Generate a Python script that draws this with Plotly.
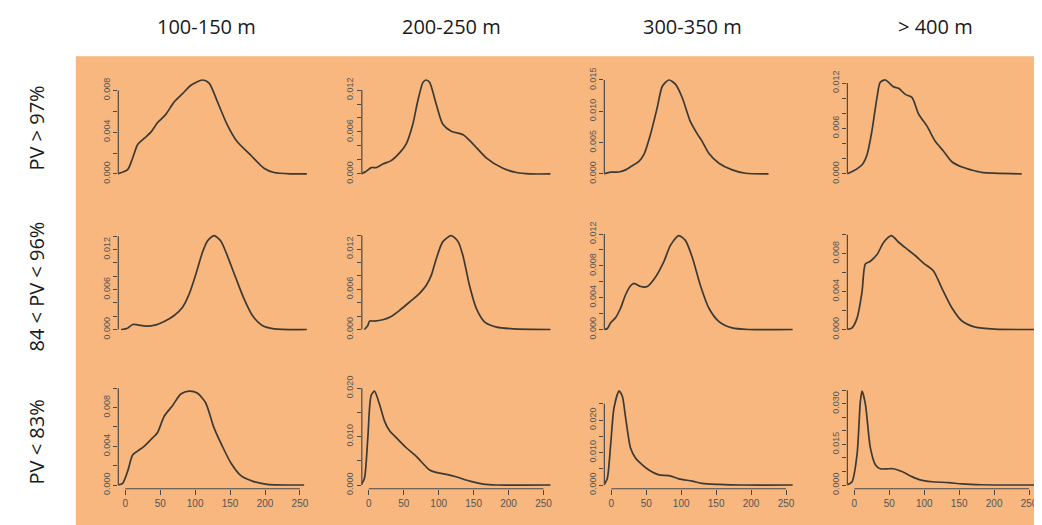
import numpy as np
import plotly.graph_objects as go

W, H = 1042, 525

col_titles = ["100-150 m", "200-250 m", "300-350 m", "> 400 m"]
row_titles = ["PV > 97%", "84 < PV < 96%", "PV < 83%"]

# density curves: (x values, density values), row-major
r1c1_x = [-11, 3.3, 10.5, 17.6, 27, 36.7, 46, 58, 70, 82, 94, 110.5, 120, 132, 146, 160, 179.5, 198.6, 213, 237, 260]
r1c1_y = [0, 0.0004, 0.0015, 0.0028, 0.0034, 0.004, 0.0049, 0.0057, 0.0069, 0.0077, 0.0085, 0.0090, 0.0087, 0.0069, 0.0047, 0.0031, 0.0018, 0.00054, 0.00013, 0, 0]
r1c2_x = [-11, -4, 3.3, 10.5, 20, 32, 44, 53.6, 63, 70, 77.5, 82, 87, 96.7, 106, 118, 135, 149, 168, 192, 211.5, 230.6, 261]
r1c2_y = [0, 0.00034, 0.0009, 0.0009, 0.0014, 0.0019, 0.003, 0.0043, 0.0071, 0.0104, 0.0131, 0.01344, 0.0131, 0.0099, 0.0071, 0.0061, 0.0056, 0.0043, 0.0023, 0.0008, 0.0002, 0, 0]
r1c3_x = [-10.5, -1, 11, 20.5, 30, 39.5, 46.7, 56, 65.7, 73, 82.4, 92, 101.4, 113, 123, 130, 139.5, 154, 173, 192, 225]
r1c3_y = [0, 0.00027, 0.0003, 0.00064, 0.0013, 0.002, 0.0031, 0.0063, 0.0106, 0.014, 0.015, 0.0143, 0.0122, 0.0084, 0.0064, 0.0052, 0.0033, 0.0017, 0.00064, 0.0001, 0]
r1c4_x = [-10.5, -1, 11, 18, 25, 32.4, 37, 44.3, 56, 63.3, 73, 82.4, 92, 104, 115.7, 127.6, 139.5, 154, 168, 182, 239.5]
r1c4_y = [0, 0.0004, 0.0012, 0.0025, 0.0056, 0.0101, 0.0121, 0.0124, 0.0115, 0.0113, 0.0105, 0.0101, 0.0079, 0.0063, 0.0043, 0.003, 0.0016, 0.0009, 0.0005, 0.0002, 0]

r2c1_x = [-6, 3.3, 10.5, 17.6, 29.5, 44, 55.7, 70, 82, 91.4, 101, 110.5, 117.6, 127, 136.7, 146, 158, 170, 182, 196, 213, 260]
r2c1_y = [0, 0.0002, 0.00075, 0.0007, 0.0005, 0.0007, 0.0012, 0.0021, 0.00335, 0.0053, 0.0083, 0.0116, 0.0133, 0.0141, 0.0133, 0.0111, 0.0078, 0.0046, 0.0021, 0.0006, 0.0001, 0]
r2c2_x = [-6.2, -1.4, 1, 8, 20, 32, 44, 58.4, 72.7, 82.3, 89.5, 96.7, 106, 118, 127.8, 135, 144.5, 154, 166, 183, 207, 261]
r2c2_y = [0, 0.0006, 0.00125, 0.00125, 0.00145, 0.00195, 0.00285, 0.0041, 0.0054, 0.0066, 0.0081, 0.0106, 0.0131, 0.014, 0.0131, 0.0109, 0.0064, 0.0031, 0.0011, 0.00035, 0.0001, 0]
r2c3_x = [-10.5, -5.7, -1, 6.2, 13.3, 20.5, 27.6, 32.4, 42, 51.4, 63.3, 75, 84.8, 96.7, 106, 115.7, 127.6, 139.5, 154, 173, 196.7, 259.5]
r2c3_y = [0, 0.00013, 0.00085, 0.0015, 0.0027, 0.0044, 0.0055, 0.0058, 0.0054, 0.0054, 0.0066, 0.0085, 0.0106, 0.0118, 0.0112, 0.0091, 0.0055, 0.0027, 0.001, 0.0002, 0, 0]
r2c4_x = [-10.5, -3.3, 3.8, 11, 15.7, 22.9, 32.4, 42, 53, 63.3, 75, 87, 99, 113, 125, 139.5, 154, 173, 201, 261]
r2c4_y = [0, 0.00018, 0.0012, 0.004, 0.0069, 0.0072, 0.0079, 0.0092, 0.0099, 0.0092, 0.0085, 0.0078, 0.007, 0.0062, 0.0044, 0.0023, 0.0009, 0.00025, 0.00004, 0]

r3c1_x = [-11, -3.8, 3.3, 10.5, 17.6, 27, 36.7, 46, 55.7, 67.6, 79.5, 91.4, 103, 115, 127, 139, 151, 165, 184, 203, 256]
r3c1_y = [0, 0.00017, 0.0014, 0.0031, 0.0035, 0.004, 0.0047, 0.0054, 0.0071, 0.0082, 0.0094, 0.0097, 0.0095, 0.0085, 0.0059, 0.004, 0.0023, 0.001, 0.00035, 0.00007, 0]
r3c2_x = [-11, -6.2, -1.4, 3.3, 8.1, 15.3, 22.5, 29.7, 39.2, 53.6, 68, 87, 96.7, 111, 125, 144.5, 163.6, 183, 261]
r3c2_y = [0, 0.0014, 0.0098, 0.0185, 0.0194, 0.0167, 0.0132, 0.0112, 0.0098, 0.0077, 0.0059, 0.0031, 0.0026, 0.0022, 0.0017, 0.0008, 0.0002, 0, 0]
r3c3_x = [-10.5, -5.7, -1, 3.8, 11, 15.7, 20.5, 27.6, 34.8, 44.3, 53.8, 68, 82.4, 96.7, 115.7, 130, 154, 187, 259.5]
r3c3_y = [0, 0.0021, 0.0124, 0.0237, 0.0289, 0.0273, 0.0206, 0.0113, 0.0082, 0.0062, 0.0046, 0.0031, 0.0029, 0.0019, 0.0012, 0.0005, 0.0002, 0, 0]
r3c4_x = [-10.5, -3.3, 3.8, 8.6, 11, 15.7, 22.9, 30, 37, 46.7, 56, 68, 82.4, 94, 111, 135, 154, 182, 261]
r3c4_y = [0, 0.0012, 0.0112, 0.031, 0.0347, 0.030, 0.0137, 0.0075, 0.006, 0.006, 0.006, 0.005, 0.0031, 0.0019, 0.0012, 0.0009, 0.0004, 0.0001, 0]

curves = [
    [(r1c1_x, r1c1_y), (r1c2_x, r1c2_y), (r1c3_x, r1c3_y), (r1c4_x, r1c4_y)],
    [(r2c1_x, r2c1_y), (r2c2_x, r2c2_y), (r2c3_x, r2c3_y), (r2c4_x, r2c4_y)],
    [(r3c1_x, r3c1_y), (r3c2_x, r3c2_y), (r3c3_x, r3c3_y), (r3c4_x, r3c4_y)],
]

# y axis ticks per panel: step, last tick, label every n-th tick
y_tick_step = [[0.002, 0.002, 0.005, 0.002],
               [0.002, 0.002, 0.002, 0.002],
               [0.002, 0.005, 0.005, 0.005]]
y_tick_top = [[0.008, 0.012, 0.015, 0.012],
              [0.014, 0.014, 0.012, 0.010],
              [0.010, 0.020, 0.025, 0.035]]
y_label_every = [[2, 3, 1, 3],
                 [3, 3, 2, 2],
                 [2, 2, 2, 3]]
x_ticks = [0, 50, 100, 150, 200, 250]
x_lim = [0, 250]

# target layout geometry in screen pixels
col_left = [118.5, 362.5, 605.5, 849]
col_w = 189
row_top = [76.9, 231.6, 386.2]
row_h = 100.8

# mapping of screen pixels to paper fractions (page offset compensated)
X0, XW = 8.0, 1042.0
Y0, YH = 21.0, 504.0


def fx(px):
    return (px - X0) / XW


def fy(py):
    return 1 - (py - Y0) / YH


ORANGE = "#F7B77E"
LINE = "#3d3934"
AX = "#4a4a4a"
TXT = "#1a1a1a"

fig = go.Figure()
layout = dict(
    width=W, height=H,
    margin=dict(l=0, r=0, t=0, b=0, pad=0),
    paper_bgcolor="white",
    plot_bgcolor="rgba(0,0,0,0)",
    showlegend=False,
)
shapes = [dict(type="rect", xref="paper", yref="paper",
               x0=fx(76), x1=1.02, y0=-0.05, y1=fy(57),
               fillcolor=ORANGE, line=dict(width=0), layer="below")]
annotations = []

xpad = 0.04 * (x_lim[1] - x_lim[0])
n = 0
for r in range(3):
    for c in range(4):
        n += 1
        sfx = "" if n == 1 else str(n)
        xs, ys = curves[r][c]
        M = max(ys)
        fig.add_trace(go.Scatter(x=xs, y=ys, mode="lines",
                                 line=dict(color=LINE, width=1.7, shape="spline", smoothing=0.7),
                                 xaxis="x" + sfx, yaxis="y" + sfx, hoverinfo="skip"))
        step = y_tick_step[r][c]
        top = y_tick_top[r][c]
        tv = list(np.round(np.arange(0, top + step / 2, step), 6))
        every = y_label_every[r][c]
        tt = [f"{v:.3f}" if i % every == 0 else "" for i, v in enumerate(tv)]
        xd = [fx(col_left[c]), fx(col_left[c] + col_w)]
        yd = [fy(row_top[r] + row_h), fy(row_top[r])]
        bottom = (r == 2)
        layout["xaxis" + sfx] = dict(
            domain=xd, anchor="y" + sfx, range=[x_lim[0] - xpad, x_lim[1] + xpad],
            showgrid=False, zeroline=False, showline=False,
            tickvals=x_ticks if bottom else [], ticks="outside" if bottom else "",
            ticklen=5, tickwidth=1, tickcolor=AX,
            showticklabels=bottom,
            tickfont=dict(family="Liberation Sans, Arial", size=10, color="#555"),
        )
        layout["yaxis" + sfx] = dict(
            domain=yd, anchor="x" + sfx, range=[-0.04 * M, 1.04 * M],
            showgrid=False, zeroline=False, showline=False,
            tickvals=tv, ticktext=tt, ticks="outside", ticklen=4, tickwidth=1,
            tickcolor=AX, tickangle=-90,
            tickfont=dict(family="Liberation Sans, Arial", size=9, color="#555"),
        )
        shapes.append(dict(type="line", xref=f"x{sfx} domain", yref="y" + sfx,
                           x0=0, x1=0, y0=tv[0], y1=tv[-1],
                           line=dict(color=AX, width=1.2)))
        if bottom:
            shapes.append(dict(type="line", xref="x" + sfx, yref=f"y{sfx} domain",
                               x0=x_ticks[0], x1=x_ticks[-1], y0=0, y1=0,
                               line=dict(color=AX, width=1.2)))

col_title_x = [207, 452, 694, 937]
for c, t in enumerate(col_titles):
    annotations.append(dict(text=t, x=fx(col_title_x[c]), y=fy(27),
                            xref="paper", yref="paper", showarrow=False,
                            xanchor="center", yanchor="middle",
                            font=dict(family="Open Sans", size=20, color=TXT)))
row_title_y = [128, 286, 440]
for r, t in enumerate(row_titles):
    annotations.append(dict(text=t, x=fx(37), y=fy(row_title_y[r]),
                            xref="paper", yref="paper", showarrow=False,
                            textangle=-90, xanchor="center", yanchor="middle",
                            font=dict(family="Open Sans", size=20, color=TXT)))

layout["shapes"] = shapes
layout["annotations"] = annotations
fig.update_layout(**layout)
fig.write_html("out.html")
